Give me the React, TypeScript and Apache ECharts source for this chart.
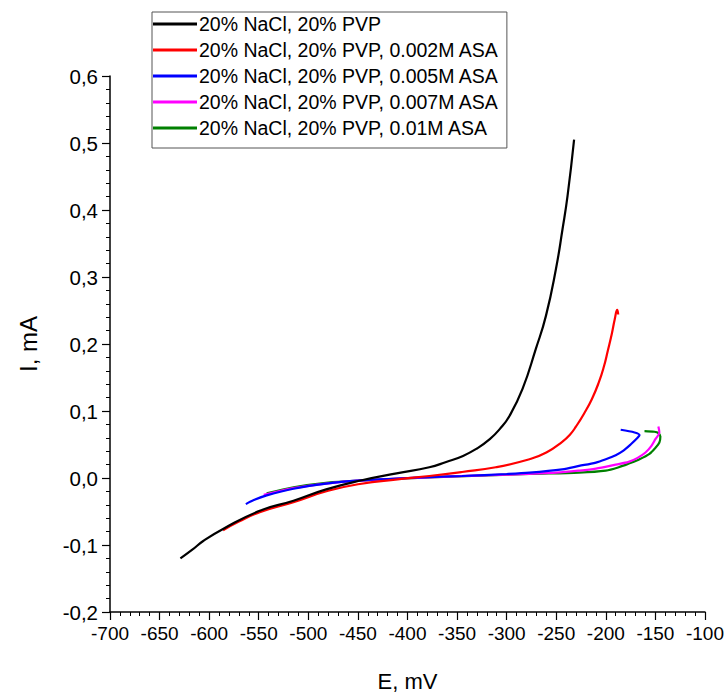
import React, { useEffect, useRef } from "react";
import * as echarts from "echarts";

const seriesNames = [
  "20% NaCl, 20% PVP",
  "20% NaCl, 20% PVP, 0.002M ASA",
  "20% NaCl, 20% PVP, 0.005M ASA",
  "20% NaCl, 20% PVP, 0.007M ASA",
  "20% NaCl, 20% PVP, 0.01M ASA",
];
const seriesColors = ["#000000", "#ff0000", "#0000ff", "#ff00ff", "#008000"];

const black: number[][] = [
  [-629, -0.12], [-617, -0.107], [-606, -0.094], [-586, -0.076], [-549, -0.049],
  [-515, -0.034], [-482, -0.017], [-445, -0.003], [-411, 0.007], [-378, 0.016],
  [-361, 0.024], [-344, 0.033], [-330, 0.044], [-317, 0.058], [-307, 0.073],
  [-297, 0.093], [-284, 0.133], [-270.5, 0.193], [-260.4, 0.242], [-250.3, 0.312],
  [-243.6, 0.372], [-238.6, 0.421], [-232, 0.505],
];
const red: number[][] = [
  [-586, -0.078], [-570, -0.065], [-549, -0.051], [-515, -0.036], [-480, -0.019],
  [-448, -0.009], [-410, -0.002], [-378, 0.003], [-345, 0.009], [-311, 0.016],
  [-277, 0.028], [-260, 0.038], [-244, 0.054], [-236, 0.065], [-230, 0.077],
  [-222, 0.096], [-214, 0.118], [-207, 0.143], [-202, 0.166], [-198, 0.19],
  [-194, 0.215], [-191, 0.237], [-188.5, 0.251], [-187.5, 0.244],
];
const blue: number[][] = [
  [-563, -0.039], [-555, -0.033], [-542, -0.026], [-515, -0.016], [-480, -0.008],
  [-450, -0.004], [-400, 0.0], [-345, 0.003], [-300, 0.006], [-277, 0.008],
  [-244, 0.013], [-227, 0.018], [-210, 0.023], [-200, 0.028], [-190, 0.034],
  [-183, 0.04], [-175, 0.05], [-168, 0.06], [-166, 0.064], [-171, 0.068],
  [-185, 0.072],
];
const magenta: number[][] = [
  [-545, -0.025], [-515, -0.015], [-480, -0.008], [-450, -0.004], [-380, 0.001],
  [-300, 0.005], [-250, 0.008], [-227, 0.011], [-210, 0.014], [-190, 0.02],
  [-177, 0.024], [-168, 0.03], [-160, 0.038], [-154, 0.048], [-150, 0.058],
  [-146, 0.068], [-147, 0.077],
];
const green: number[][] = [
  [-542, -0.023], [-515, -0.014], [-480, -0.007], [-448, -0.004], [-378, 0.001],
  [-277, 0.006], [-227, 0.008], [-200, 0.011], [-187, 0.016], [-176, 0.022],
  [-166, 0.028], [-156, 0.036], [-150, 0.045], [-146, 0.053], [-145, 0.062],
  [-147, 0.067], [-151, 0.069], [-161, 0.07],
];
const seriesData = [black, red, blue, magenta, green];
const seriesSmooth = [0.5, 0.5, 0.3, 0.3, 0.3];

const xTicks = { min: -700, max: -100, interval: 50 };
const yTicks = { min: -0.2, max: 0.6, interval: 0.1 };

const FONT = "'Liberation Sans', Arial, sans-serif";

export default function App() {
  const ref = useRef<HTMLDivElement>(null);
  useEffect(() => {
    if (!ref.current) return;
    const chart = echarts.init(ref.current, undefined, { renderer: "svg" });
    chart.setOption({
      animation: false,
      backgroundColor: "#ffffff",
      textStyle: { fontFamily: FONT, color: "#000" },
      grid: { left: 110, right: 21, top: 76, bottom: 86, containLabel: false },
      legend: {
        orient: "vertical",
        left: 152,
        top: 12,
        icon: "rect",
        itemWidth: 44,
        itemHeight: 3,
        itemGap: 6,
        padding: [2, 8, 10, 1],
        borderColor: "#555",
        borderWidth: 1,
        backgroundColor: "#fff",
        textStyle: {
          fontFamily: FONT,
          fontSize: 19.5,
          lineHeight: 20,
          color: "#000",
          padding: [0, 0, 0, -3],
        },
        data: seriesNames,
      },
      xAxis: {
        type: "value",
        min: xTicks.min,
        max: xTicks.max,
        interval: xTicks.interval,
        name: "E, mV",
        nameLocation: "middle",
        nameGap: 58,
        nameTextStyle: { fontFamily: FONT, fontSize: 22, color: "#000" },
        axisLine: { show: true, onZero: false, lineStyle: { color: "#000", width: 1.5 } },
        axisTick: { show: true, inside: false, length: 8, lineStyle: { color: "#000", width: 1.2 } },
        minorTick: { show: true, splitNumber: 5, length: 4, lineStyle: { color: "#000", width: 1 } },
        splitLine: { show: false },
        axisLabel: { fontFamily: FONT, fontSize: 19, color: "#000", margin: 12 },
      },
      yAxis: {
        type: "value",
        min: yTicks.min,
        max: yTicks.max,
        interval: yTicks.interval,
        name: "I, mA",
        nameLocation: "middle",
        nameGap: 70,
        nameRotate: 90,
        nameTextStyle: { fontFamily: FONT, fontSize: 24, color: "#000" },
        axisLine: { show: true, onZero: false, lineStyle: { color: "#000", width: 1.5 } },
        axisTick: { show: true, inside: false, length: 8, lineStyle: { color: "#000", width: 1.2 } },
        minorTick: { show: true, splitNumber: 5, length: 4, lineStyle: { color: "#000", width: 1 } },
        splitLine: { show: false },
        axisLabel: {
          fontFamily: FONT,
          fontSize: 20.5,
          color: "#000",
          margin: 12,
          formatter: (v: number) => v.toFixed(1).replace(".", ","),
        },
      },
      series: seriesNames.map((name, i) => ({
        name,
        type: "line",
        data: seriesData[i],
        symbol: "none",
        smooth: seriesSmooth[i],
        color: seriesColors[i],
        lineStyle: { color: seriesColors[i], width: 2.2 },
        z: 10 - i,
      })),
    });
    return () => chart.dispose();
  }, []);
  return (
    <div
      ref={ref}
      style={{ position: "absolute", left: 0, top: 0, width: 727, height: 698 }}
    />
  );
}
